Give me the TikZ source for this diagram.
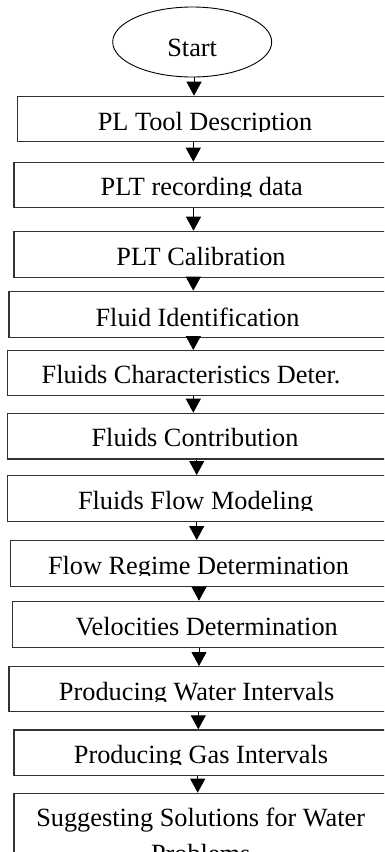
\documentclass[tikz,border=0pt]{standalone}
\usepackage{fontspec}
\setmainfont{Liberation Serif}
\usetikzlibrary{arrows.meta,shapes.geometric}
\begin{document}
\begin{tikzpicture}[x=1pt,y=-1pt,
  boxst/.style={draw=black!80,line width=1.3pt,rectangle,inner sep=0pt,anchor=north west},
  lbl/.style={anchor=base,inner sep=0pt,font=\fontsize{26.3}{35.7}\selectfont},
  arr/.style={line width=0.9pt,-{Triangle[width=15pt,length=14pt]}}]
\clip (0,0) rectangle (384,852);
\fill[white] (0,0) rectangle (384,852);
% start
\node[ellipse,draw,line width=0.9pt,minimum width=159pt,minimum height=70pt,
  text height=29.4pt,text depth=0pt,inner sep=0pt,
  font=\fontsize{26.3}{35.7}\selectfont] (start) at (192.2,42) {Start};
% boxes
\node[boxst,minimum width=378.3pt,minimum height=45.3pt] (b1) at (16.7,95.7) {};
\node[boxst,minimum width=381.7pt,minimum height=45pt] (b2) at (13.3,161.7) {};
\node[boxst,minimum width=381.7pt,minimum height=46pt] (b3) at (13.3,230.7) {};
\node[boxst,minimum width=386.7pt,minimum height=46pt] (b4) at (8.3,290.7) {};
\node[boxst,minimum width=388pt,minimum height=45pt] (b5) at (7,350) {};
\node[boxst,minimum width=388pt,minimum height=45.6pt] (b6) at (7,412.7) {};
\node[boxst,minimum width=388pt,minimum height=45.7pt] (b7) at (7,475) {};
\node[boxst,minimum width=385pt,minimum height=45.7pt] (b8) at (10,540) {};
\node[boxst,minimum width=383pt,minimum height=46pt] (b9) at (12,600.7) {};
\node[boxst,minimum width=386.7pt,minimum height=45pt] (b10) at (8.3,666) {};
\node[boxst,minimum width=381.7pt,minimum height=45.7pt] (b11) at (13.3,729.3) {};
\node[boxst,minimum width=381.7pt,minimum height=107pt] (b12) at (13.3,792.7) {};
% texts (clipped at the baseline, as in the reference)
\begin{scope}\clip (0,0) rectangle (384,131);
\node[lbl] (t1) at (205,130) {PL Tool Description};\end{scope}
\begin{scope}\clip (0,0) rectangle (384,196);
\node[lbl] (t2) at (201.7,195) {PLT recording data};\end{scope}
\begin{scope}\clip (0,0) rectangle (384,266);
\node[lbl] (t3) at (201,265) {PLT Calibration};\end{scope}
\begin{scope}\clip (0,0) rectangle (384,327.7);
\node[lbl] (t4) at (197.5,326.7) {Fluid Identification};\end{scope}
\begin{scope}\clip (0,0) rectangle (384,384);
\node[lbl] (t5) at (191,383) {Fluids Characteristics Deter.};\end{scope}
\begin{scope}\clip (0,0) rectangle (384,447.7);
\node[lbl] (t6) at (195,446.7) {Fluids Contribution};\end{scope}
\begin{scope}\clip (0,0) rectangle (384,510);
\node[lbl] (t7) at (195.7,509) {Fluids Flow Modeling};\end{scope}
\begin{scope}\clip (0,0) rectangle (384,575);
\node[lbl] (t8) at (198.5,574) {Flow Regime Determination};\end{scope}
\begin{scope}\clip (0,0) rectangle (384,636);
\node[lbl] (t9) at (206.7,635) {Velocities Determination};\end{scope}
\begin{scope}\clip (0,0) rectangle (384,701);
\node[lbl] (t10) at (196.7,700) {Producing Water Intervals};\end{scope}
\begin{scope}\clip (0,0) rectangle (384,764.3);
\node[lbl] (t11) at (201,763.3) {Producing Gas Intervals};\end{scope}
\node[lbl,align=center] (t12) at (200.7,862.4) {Suggesting Solutions for Water\\Problems};
% arrow columns
\coordinate (a0) at (194,0);
\coordinate (a1) at (193.3,0);
\coordinate (a2) at (193.5,0);
\coordinate (a3) at (193.3,0);
\coordinate (a4) at (193.3,0);
\coordinate (a5) at (193.3,0);
\coordinate (a6) at (196.7,0);
\coordinate (a7) at (196.7,0);
\coordinate (a8) at (199,0);
\coordinate (a9) at (199,0);
\coordinate (a10) at (198.3,0);
\coordinate (a11) at (197.7,0);
\draw[arr] (start.south -| a0) -- (b1.north -| a0);
\draw[arr] (b1.south -| a1) -- (b2.north -| a1);
\draw[arr] (b2.south -| a2) -- (b3.north -| a2);
\draw[arr] (b3.south -| a3) -- (b4.north -| a3);
\draw[arr] (b4.south -| a4) -- (b5.north -| a4);
\draw[arr] (b5.south -| a5) -- (b6.north -| a5);
\draw[arr] (b6.south -| a6) -- (b7.north -| a6);
\draw[arr] (b7.south -| a7) -- (b8.north -| a7);
\draw[arr] (b8.south -| a8) -- (b9.north -| a8);
\draw[arr] (b9.south -| a9) -- (b10.north -| a9);
\draw[arr] (b10.south -| a10) -- (b11.north -| a10);
\draw[arr] (b11.south -| a11) -- (b12.north -| a11);
\end{tikzpicture}
\end{document}
